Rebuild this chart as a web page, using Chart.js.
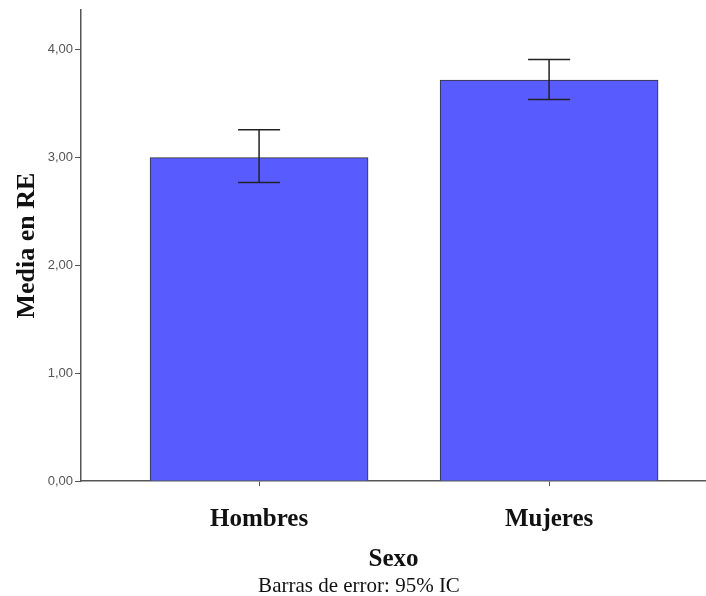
<!DOCTYPE html>
<html>
<head>
<meta charset="utf-8">
<script src="https://cdn.jsdelivr.net/npm/chart.js@4.4.1/dist/chart.umd.min.js"></script>
<style>
  html, body { margin: 0; padding: 0; background: #fff; }
  #wrap { width: 706px; height: 596px; }
</style>
</head>
<body>
<div id="wrap"><canvas id="c" width="706" height="596"></canvas></div>
<script>
// datos
const categorias = ['Hombres', 'Mujeres'];
const medias = [3.00, 3.72];
const icInferior = [2.77, 3.54];
const icSuperior = [3.26, 3.91];
const ticksY = [0, 1, 2, 3, 4];

const serif = '"Liberation Serif", "Times New Roman", serif';
const sans = '"Liberation Sans", Arial, sans-serif';

// barras de error del 95% IC
const barrasError = {
  id: 'barrasError',
  afterDatasetsDraw(chart) {
    const ctx = chart.ctx;
    const y = chart.scales.y;
    const meta = chart.getDatasetMeta(0);
    ctx.save();
    ctx.strokeStyle = '#222';
    ctx.lineWidth = 1.5;
    meta.data.forEach((bar, i) => {
      const yl = y.getPixelForValue(icInferior[i]);
      const yu = y.getPixelForValue(icSuperior[i]);
      const half = 21;
      ctx.beginPath();
      ctx.moveTo(bar.x, yl);
      ctx.lineTo(bar.x, yu);
      ctx.moveTo(bar.x - half, yu);
      ctx.lineTo(bar.x + half, yu);
      ctx.moveTo(bar.x - half, yl);
      ctx.lineTo(bar.x + half, yl);
      ctx.stroke();
    });
    ctx.restore();
  }
};

new Chart(document.getElementById('c'), {
  type: 'bar',
  data: {
    datasets: [{
      data: medias.map((v, i) => ({ x: i + 1, y: v })),
      backgroundColor: '#585CFF',
      borderColor: '#333',
      borderWidth: 1,
      barThickness: 218
    }]
  },
  plugins: [barrasError],
  options: {
    responsive: false,
    animation: false,
    layout: { padding: { top: 10, right: 0, left: 12, bottom: 0 } },
    plugins: {
      legend: { display: false },
      tooltip: { enabled: false },
      subtitle: {
        display: true,
        position: 'bottom',
        text: 'Barras de error: 95% IC',
        color: '#111',
        font: { family: serif, size: 21, weight: 'normal', lineHeight: 0.9 },
        padding: { top: 0, bottom: 0 }
      }
    },
    scales: {
      x: {
        type: 'linear',
        offset: false,
        min: 0.386,
        max: 2.541,
        afterBuildTicks: s => { s.ticks = categorias.map((c, i) => ({ value: i + 1 })); },
        ticks: {
          callback: v => categorias[v - 1],
          color: '#111',
          font: { family: serif, size: 25, weight: 'bold' },
          padding: 18,
          maxRotation: 0
        },
        grid: { offset: false, drawOnChartArea: false, tickLength: 5, color: '#555' },
        border: { color: '#555', width: 1.5 },
        title: {
          display: true,
          text: 'Sexo',
          color: '#111',
          font: { family: serif, size: 25, weight: 'bold' },
          padding: { top: 11, bottom: 3 }
        },
        afterFit: s => { s.height = 96; }
      },
      y: {
        min: 0,
        max: 4.37,
        afterBuildTicks: s => { s.ticks = ticksY.map(v => ({ value: v })); },
        ticks: {
          callback: v => v.toFixed(2).replace('.', ','),
          color: '#555',
          font: { family: sans, size: 13 },
          padding: 2
        },
        grid: { drawOnChartArea: false, tickLength: 6, color: '#555' },
        border: { color: '#555', width: 1.5 },
        title: {
          display: true,
          text: 'Media en RE',
          color: '#111',
          font: { family: serif, size: 26, weight: 'bold' },
          padding: { top: 0, bottom: 10 }
        },
        afterFit: s => { s.width = 69; }
      }
    }
  }
});
</script>
</body>
</html>
